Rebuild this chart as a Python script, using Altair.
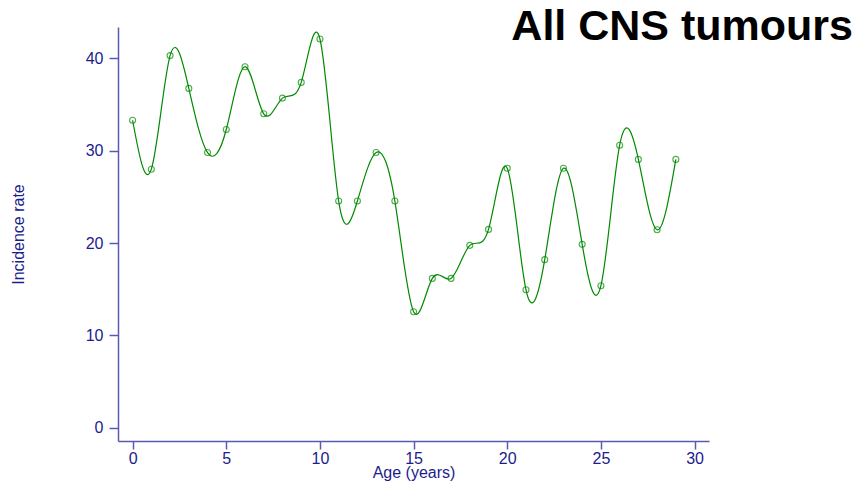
import altair as alt
import pandas as pd

ages = list(range(30))
rates = [33.3, 28.0, 40.3, 36.75, 29.8, 32.3, 39.1, 34.0, 35.7, 37.4,
         42.1, 24.55, 24.55, 29.8, 24.55, 12.56, 16.17, 16.17, 19.75, 21.48,
         28.1, 14.94, 18.2, 28.1, 19.86, 15.38, 30.6, 29.06, 21.44, 29.06]
x_ticks = [0, 5, 10, 15, 20, 25, 30]
y_ticks = [0, 10, 20, 30, 40]
title_text = "All CNS tumours"

df = pd.DataFrame({"age": ages, "rate": rates})

NAVY = "#1c1c8c"
AXIS = "#5a5ab4"
GREEN = "#008a00"
FONT = "Liberation Sans"

x_enc = alt.X("age:Q", scale=alt.Scale(domain=[-0.78, 30.77], nice=False, zero=False),
              axis=alt.Axis(values=x_ticks, title="Age (years)", grid=False,
                            tickSize=8, labelPadding=1, titleY=23))
y_enc = alt.Y("rate:Q", scale=alt.Scale(domain=[-1.44, 43.4], nice=False, zero=False),
              axis=alt.Axis(values=y_ticks, title="Incidence rate", grid=False,
                            tickSize=9, labelPadding=6, titleX=-92, titleY=207))

line = alt.Chart(df).mark_line(color=GREEN, strokeWidth=1.2, interpolate="natural").encode(
    x=x_enc, y=y_enc)
pts = alt.Chart(df).mark_point(shape="circle", filled=False, color=GREEN, size=36,
                               strokeWidth=1.1).encode(x="age:Q", y="rate:Q")
ttl = alt.Chart(pd.DataFrame({"t": [title_text]})).mark_text(
    align="right", baseline="alphabetic", fontSize=43, fontWeight="bold",
    font=FONT, color="black").encode(text="t:N", x=alt.value(735), y=alt.value(13))

chart = alt.layer(line, pts, ttl).properties(
    width=591, height=414,
    autosize=alt.AutoSizeParams(type="none"),
    padding={"left": 110, "top": 19, "right": 144, "bottom": 43},
).configure_view(stroke=None).configure_axis(
    domainColor=AXIS, domainWidth=1.5, tickColor=AXIS, tickWidth=1.5,
    labelColor=NAVY, labelFontSize=16, labelFont=FONT,
    titleColor=NAVY, titleFontSize=16, titleFont=FONT, titleFontWeight="normal",
)

chart.save("out.html", embed_options={"renderer": "svg", "actions": False})
